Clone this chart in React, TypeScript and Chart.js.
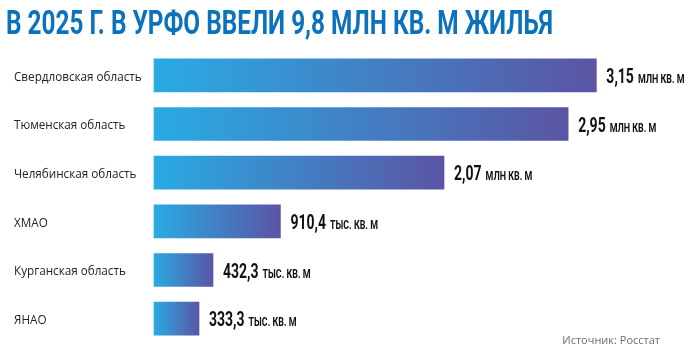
import { useEffect, useRef } from 'react';
import { Chart, registerables } from 'chart.js';

Chart.register(...registerables);

const TITLE = 'В 2025 Г. В УРФО ВВЕЛИ 9,8 МЛН КВ. М ЖИЛЬЯ';
const SOURCE = 'Источник: Росстат';
const categories = ['Свердловская область', 'Тюменская область', 'Челябинская область', 'ХМАО', 'Курганская область', 'ЯНАО'];
// values in млн кв. м
const values = [3.15, 2.95, 2.07, 0.9104, 0.4323, 0.3333];
const valueNumbers = ['3,15', '2,95', '2,07', '910,4', '432,3', '333,3'];
const valueUnits = ['млн кв. м', 'млн кв. м', 'млн кв. м', 'тыс. кв. м', 'тыс. кв. м', 'тыс. кв. м'];
const xMax = 3.75;

const overlay = {
  id: 'overlay',
  afterDraw(chart: any) {
    const ctx = chart.ctx as CanvasRenderingContext2D;
    // title
    ctx.save();
    ctx.font = '700 34px Roboto';
    const tw = ctx.measureText(TITLE).width;
    const sx = 547 / tw;
    ctx.translate(6, 34);
    ctx.scale(sx, 1);
    ctx.fillStyle = '#0b72bd';
    ctx.textBaseline = 'alphabetic';
    ctx.textAlign = 'left';
    ctx.fillText(TITLE, 0, 0);
    ctx.restore();

    // value labels
    const meta = chart.getDatasetMeta(0);
    const cs = 0.7;
    meta.data.forEach((el: any, i: number) => {
      const x = el.x + 9;
      const y = el.y + 7.5;
      ctx.save();
      ctx.fillStyle = '#111';
      ctx.textBaseline = 'alphabetic';
      ctx.textAlign = 'left';
      ctx.font = '700 20px Roboto';
      const nw = ctx.measureText(valueNumbers[i]).width * cs;
      ctx.translate(x, y);
      ctx.scale(cs, 1);
      ctx.fillText(valueNumbers[i], 0, 0);
      ctx.restore();
      ctx.save();
      ctx.fillStyle = '#111';
      ctx.textBaseline = 'alphabetic';
      ctx.textAlign = 'left';
      ctx.font = '700 13.5px Roboto';
      ctx.translate(x + nw + 4, y);
      ctx.scale(0.66, 1);
      ctx.fillText(valueUnits[i].toUpperCase(), 0, 0);
      ctx.restore();
    });

    // source
    ctx.save();
    ctx.font = '11px "Open Sans"';
    ctx.fillStyle = '#6d6d6d';
    ctx.textAlign = 'right';
    ctx.textBaseline = 'alphabetic';
    ctx.fillText(SOURCE, 660, 344);
    ctx.restore();
  },
};

export default function App() {
  const ref = useRef<HTMLCanvasElement>(null);
  useEffect(() => {
    const canvas = ref.current!;
    const chart = new Chart(canvas, {
      type: 'bar',
      data: {
        labels: categories,
        datasets: [
          {
            data: values,
            barThickness: 35,
            borderWidth: 1,
            borderSkipped: false,
            borderColor: 'rgba(255,255,255,0.35)',
            backgroundColor: (c: any) => {
              const chart = c.chart;
              const xs = chart.scales && chart.scales.x;
              if (!xs || !chart.chartArea || typeof c.raw !== 'number') return '#3d84c8';
              const x0 = xs.getPixelForValue(0);
              const x1 = xs.getPixelForValue(c.raw);
              const g = chart.ctx.createLinearGradient(x0, 0, x1, 0);
              g.addColorStop(0, '#29abe3');
              g.addColorStop(1, '#5b54a4');
              return g;
            },
          },
        ],
      },
      options: {
        indexAxis: 'y',
        animation: false,
        responsive: true,
        maintainAspectRatio: false,
        devicePixelRatio: 1,
        layout: { padding: { left: 14, right: 15, top: 51, bottom: 10 } },
        plugins: { legend: { display: false }, tooltip: { enabled: false }, title: { display: false } },
        scales: {
          x: { display: false, min: 0, max: xMax },
          y: {
            type: 'category',
            grid: { display: false },
            border: { display: false },
            ticks: {
              crossAlign: 'far',
              padding: 0,
              labelOffset: 2,
              color: '#222',
              font: { family: '"Open Sans"', size: 11.7 },
            },
            afterFit: (scale: any) => {
              scale.width = 139;
            },
          },
        },
      },
      plugins: [overlay],
    });
    return () => chart.destroy();
  }, []);
  return (
    <div style={{ position: 'absolute', left: 0, top: 0, width: 697, height: 353, background: '#fff' }}>
      <canvas ref={ref} />
    </div>
  );
}
